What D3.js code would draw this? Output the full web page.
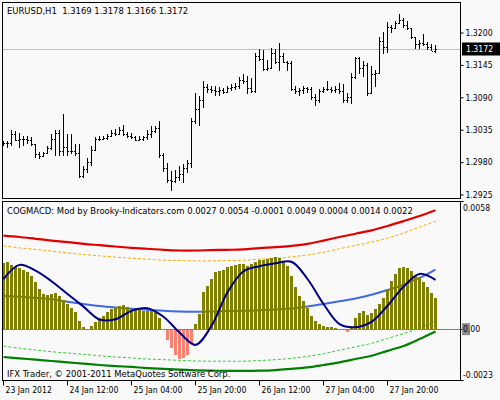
<!DOCTYPE html>
<html><head><meta charset="utf-8">
<script src="https://cdn.jsdelivr.net/npm/d3@7"></script>
<style>
body{margin:0;background:#f9f9f9}
svg{display:block}
text{font-family:"DejaVu Sans Condensed","DejaVu Sans",sans-serif;font-stretch:condensed;font-size:8.6px;fill:#000}
text.title{font-size:9.4px}
</style></head>
<body><svg id="c" width="500" height="400"></svg>
<script>
const symbol = "EURUSD,H1";
const indicatorName = "COGMACD: Mod by Brooky-Indicators.com";
const copyright = "IFX Trader, \u00a9 2001-2011 MetaQuotes Software Corp.";
const timeLabels = ["23 Jan 2012","24 Jan 12:00","25 Jan 04:00","25 Jan 20:00","26 Jan 12:00","27 Jan 04:00","27 Jan 20:00"];
const timeLabelBars = [0,16,32,48,64,80,96];
const priceTicks = [1.3200,1.3145,1.3090,1.3035,1.2980,1.2925];
const indicatorTicks = [0.0058,0.00,-0.0023];

const open = [1.3010,1.3012,1.3013,1.3028,1.3018,1.3020,1.3020,1.3018,1.3010,1.2993,
1.2990,1.2995,1.3004,1.3020,1.3030,1.2998,1.3005,1.2998,1.2998,1.2995,
1.2956,1.2968,1.2980,1.3000,1.3020,1.3019,1.3021,1.3024,1.3030,1.3028,
1.3035,1.3028,1.3024,1.3022,1.3018,1.3020,1.3022,1.3028,1.3033,1.3038,
1.2992,1.2970,1.2950,1.2948,1.2955,1.2960,1.2970,1.2978,1.3050,1.3070,
1.3085,1.3108,1.3104,1.3102,1.3100,1.3102,1.3099,1.3106,1.3108,1.3110,
1.3120,1.3118,1.3106,1.3100,1.3160,1.3155,1.3138,1.3140,1.3165,1.3150,
1.3160,1.3150,1.3148,1.3104,1.3100,1.3102,1.3105,1.3104,1.3090,1.3085,
1.3100,1.3104,1.3104,1.3102,1.3104,1.3100,1.3086,1.3090,1.3125,1.3156,
1.3140,1.3145,1.3098,1.3130,1.3132,1.3185,1.3175,1.3210,1.3207,1.3216,
1.3222,1.3212,1.3207,1.3192,1.3180,1.3182,1.3180,1.3175,1.3169];
const high = [1.3015,1.3015,1.3034,1.3032,1.3030,1.3025,1.3025,1.3023,1.3011,1.2997,
1.2997,1.3007,1.3027,1.3034,1.3034,1.3061,1.3027,1.3027,1.3011,1.3011,
1.2973,1.2987,1.3007,1.3023,1.3024,1.3025,1.3027,1.3034,1.3036,1.3040,
1.3043,1.3031,1.3030,1.3024,1.3024,1.3025,1.3034,1.3041,1.3041,1.3049,
1.2995,1.2979,1.2965,1.2966,1.2973,1.2976,1.2984,1.3055,1.3098,1.3092,
1.3117,1.3113,1.3109,1.3110,1.3108,1.3106,1.3110,1.3112,1.3115,1.3124,
1.3130,1.3126,1.3123,1.3165,1.3172,1.3171,1.3154,1.3174,1.3172,1.3182,
1.3165,1.3151,1.3151,1.3110,1.3106,1.3109,1.3108,1.3108,1.3095,1.3104,
1.3108,1.3117,1.3108,1.3110,1.3115,1.3112,1.3098,1.3131,1.3159,1.3159,
1.3151,1.3148,1.3143,1.3136,1.3193,1.3201,1.3218,1.3212,1.3219,1.3231,
1.3225,1.3219,1.3208,1.3193,1.3188,1.3197,1.3184,1.3180,1.3178];
const low = [1.3007,1.3004,1.3007,1.3015,1.3004,1.3007,1.3010,1.3007,1.2987,1.2985,
1.2988,1.2993,1.3001,1.2991,1.2991,1.2990,1.2990,1.2993,1.2990,1.2953,
1.2953,1.2962,1.2974,1.3000,1.3015,1.3018,1.3018,1.3024,1.3024,1.3027,
1.3024,1.3021,1.3020,1.3015,1.3015,1.3015,1.3018,1.3021,1.3030,1.2987,
1.2963,1.2945,1.2931,1.2945,1.2948,1.2945,1.2962,1.2970,1.3044,1.3042,
1.3072,1.3098,1.3098,1.3092,1.3092,1.3095,1.3098,1.3100,1.3103,1.3104,
1.3112,1.3096,1.3098,1.3098,1.3151,1.3134,1.3134,1.3140,1.3146,1.3134,
1.3148,1.3134,1.3100,1.3095,1.3092,1.3095,1.3098,1.3086,1.3076,1.3081,
1.3098,1.3100,1.3098,1.3098,1.3095,1.3081,1.3081,1.3079,1.3121,1.3129,
1.3125,1.3092,1.3098,1.3108,1.3129,1.3163,1.3165,1.3199,1.3206,1.3215,
1.3208,1.3205,1.3189,1.3172,1.3172,1.3177,1.3171,1.3168,1.3166];
const close = [1.3012,1.3013,1.3028,1.3018,1.3020,1.3020,1.3018,1.3010,1.2993,1.2990,
1.2995,1.3004,1.3020,1.3030,1.2998,1.3005,1.2998,1.2998,1.2995,1.2956,
1.2968,1.2980,1.3000,1.3020,1.3019,1.3021,1.3024,1.3030,1.3028,1.3035,
1.3028,1.3024,1.3022,1.3018,1.3020,1.3022,1.3028,1.3033,1.3038,1.2992,
1.2970,1.2950,1.2948,1.2955,1.2960,1.2970,1.2978,1.3050,1.3070,1.3085,
1.3108,1.3104,1.3102,1.3100,1.3102,1.3099,1.3106,1.3108,1.3110,1.3120,
1.3118,1.3106,1.3100,1.3160,1.3155,1.3138,1.3140,1.3165,1.3150,1.3160,
1.3150,1.3148,1.3104,1.3100,1.3102,1.3105,1.3104,1.3090,1.3085,1.3100,
1.3104,1.3104,1.3102,1.3104,1.3100,1.3086,1.3090,1.3125,1.3156,1.3140,
1.3145,1.3098,1.3130,1.3132,1.3185,1.3175,1.3210,1.3207,1.3216,1.3222,
1.3212,1.3207,1.3192,1.3180,1.3182,1.3180,1.3175,1.3169,1.3172];

const histogram = [0.00300,0.00303,0.00292,0.00280,0.00277,0.00268,0.00258,0.00242,0.00212,0.00182,
0.00159,0.00156,0.00159,0.00162,0.00152,0.00132,0.00114,0.00095,0.00076,0.00038,
0.00011,0.00002,0.00015,0.00033,0.00050,0.00061,0.00076,0.00091,0.00102,0.00106,
0.00109,0.00102,0.00091,0.00091,0.00091,0.00083,0.00080,0.00080,0.00076,0.00050,
-0.00001,-0.00045,-0.00083,-0.00114,-0.00129,-0.00126,-0.00111,-0.00061,0.00023,0.00068,
0.00167,0.00197,0.00227,0.00258,0.00265,0.00268,0.00283,0.00288,0.00291,0.00295,
0.00295,0.00288,0.00295,0.00303,0.00315,0.00315,0.00318,0.00321,0.00326,0.00323,
0.00303,0.00288,0.00242,0.00189,0.00152,0.00129,0.00098,0.00061,0.00035,0.00023,
0.00015,0.00011,0.00008,0.00005,0.00002,0.00001,-0.00008,0.00008,0.00050,0.00071,
0.00083,0.00065,0.00071,0.00091,0.00114,0.00141,0.00182,0.00217,0.00250,0.00277,
0.00283,0.00277,0.00262,0.00242,0.00235,0.00212,0.00189,0.00162,0.00141];

const lineBars = [0,4,8,12,16,20,24,28,32,36,40,44,48,52,56,60,64,68,72,76,80,84,88,92,96,100,104,108];
const blueLine = [0.00150,0.00147,0.00142,0.00135,0.00124,0.00114,0.00105,0.00098,0.00092,0.00088,0.00083,0.00080,0.00079,0.00080,0.00082,0.00083,0.00086,0.00089,0.00094,0.00103,0.00114,0.00126,0.00139,0.00156,0.00177,0.00201,0.00232,0.00270];
const redBand = [0.00423,0.00417,0.00409,0.00401,0.00394,0.00386,0.00380,0.00374,0.00368,0.00364,0.00359,0.00356,0.00356,0.00358,0.00359,0.00361,0.00367,0.00371,0.00377,0.00386,0.00401,0.00417,0.00432,0.00447,0.00467,0.00489,0.00512,0.00538];
const greenBand = [-0.00126,-0.00132,-0.00138,-0.00144,-0.00150,-0.00156,-0.00162,-0.00167,-0.00171,-0.00176,-0.00180,-0.00183,-0.00186,-0.00188,-0.00189,-0.00189,-0.00188,-0.00185,-0.00180,-0.00173,-0.00162,-0.00150,-0.00135,-0.00120,-0.00098,-0.00076,-0.00045,-0.00011];
const orangeDash = [0.00377,0.00368,0.00361,0.00353,0.00345,0.00338,0.00332,0.00326,0.00321,0.00317,0.00312,0.00311,0.00309,0.00309,0.00311,0.00312,0.00317,0.00321,0.00327,0.00336,0.00348,0.00364,0.00379,0.00394,0.00412,0.00435,0.00462,0.00488];
const greenDash = [-0.00077,-0.00086,-0.00094,-0.00102,-0.00108,-0.00114,-0.00120,-0.00126,-0.00130,-0.00135,-0.00138,-0.00141,-0.00144,-0.00145,-0.00145,-0.00145,-0.00142,-0.00138,-0.00132,-0.00123,-0.00111,-0.00095,-0.00080,-0.00064,-0.00042,-0.00020,0.00005,0.00036];
const navyLine = [0.00227,0.00291,0.00265,0.00217,0.00159,0.00102,0.00044,0.00045,0.00083,0.00095,0.00056,-0.00015,-0.00071,0.00015,0.00167,0.00262,0.00285,0.00298,0.00305,0.00227,0.00114,0.00023,0.00009,0.00033,0.00106,0.00192,0.00250,0.00223];

const svg = d3.select("#c");
const W = 500, H = 400;
const P1 = {l:2, r:461, t:2, b:199};
const P2 = {l:2, r:461, t:201, b:381};
const n = close.length;

const x = d3.scaleLinear().domain([0, n-1]).range([3.5, 435.5]);
const yP = d3.scaleLinear().domain([1.2925, 1.3200]).range([194.5, 32.5]);
const yI = d3.scaleLinear().domain([-0.0023, 0.0058]).range([380, 201]);

svg.append("rect").attr("width",W).attr("height",H).attr("fill","#f9f9f9");

const defs = svg.append("defs");
defs.append("clipPath").attr("id","c1").append("rect").attr("x",P1.l).attr("y",P1.t).attr("width",P1.r-P1.l).attr("height",P1.b-P1.t);
defs.append("clipPath").attr("id","c2").append("rect").attr("x",P2.l).attr("y",P2.t).attr("width",P2.r-P2.l).attr("height",P2.b-P2.t);

// ---- price panel
const g1 = svg.append("g").attr("clip-path","url(#c1)");
const last = n-1;
g1.append("line").attr("x1",P1.l).attr("x2",P1.r)
  .attr("y1",Math.round(yP(close[last]))+0.5).attr("y2",Math.round(yP(close[last]))+0.5)
  .attr("stroke","#c0c0c0");
const idx = d3.range(n);
const bars = g1.append("g").attr("stroke","#000").attr("stroke-width",1).attr("shape-rendering","crispEdges");
bars.selectAll("line.hl").data(idx).join("line").attr("class","hl")
  .attr("x1",i=>x(i)).attr("x2",i=>x(i)).attr("y1",i=>yP(high[i])).attr("y2",i=>yP(low[i]));
bars.selectAll("line.o").data(idx).join("line").attr("class","o")
  .attr("x1",i=>x(i)-1.5).attr("x2",i=>x(i)).attr("y1",i=>Math.round(yP(open[i]))+0.5).attr("y2",i=>Math.round(yP(open[i]))+0.5);
bars.selectAll("line.c").data(idx).join("line").attr("class","c")
  .attr("x1",i=>x(i)).attr("x2",i=>x(i)+1.5).attr("y1",i=>Math.round(yP(close[i]))+0.5).attr("y2",i=>Math.round(yP(close[i]))+0.5);

svg.append("text").attr("class","title").attr("x",7).attr("y",14).attr("xml:space","preserve").style("white-space","pre")
  .text(symbol+"  "+[open[last],high[last],low[last],close[last]].map(v=>v.toFixed(4)).join(" "));

svg.append("rect").attr("x",P1.l+0.5).attr("y",P1.t+0.5).attr("width",P1.r-P1.l-1).attr("height",P1.b-P1.t-1)
  .attr("fill","none").attr("stroke","#000");

// price axis
const axP = svg.append("g").attr("transform",`translate(${P1.r-0.5},0)`)
  .call(d3.axisRight(yP).tickValues(priceTicks).tickSize(3).tickPadding(2).tickFormat(d3.format(".4f")));
axP.select(".domain").remove();
axP.attr("font-family",null).attr("font-size",null);
axP.selectAll("text").attr("fill","#000");
axP.selectAll("line").attr("stroke","#000");
// current price marker
const cy = yP(close[last]);
svg.append("rect").attr("x",462).attr("y",cy-6.5).attr("width",38).attr("height",13).attr("fill","#000");
svg.append("text").attr("x",466).attr("y",cy).attr("dy","0.34em").style("fill","#fff").text(close[last].toFixed(4));

// ---- indicator panel
const g2 = svg.append("g").attr("clip-path","url(#c2)");
const lineGen = arr => d3.line().x((d,k)=>x(lineBars[k])).y(d=>yI(d)).curve(d3.curveCatmullRom)(arr);

g2.append("path").attr("d",lineGen(blueLine)).attr("fill","none").attr("stroke","#4169e1").attr("stroke-width",2);
g2.append("path").attr("d",lineGen(redBand)).attr("fill","none").attr("stroke","#e00000").attr("stroke-width",2.2);
g2.append("path").attr("d",lineGen(greenBand)).attr("fill","none").attr("stroke","#008000").attr("stroke-width",2.2);
g2.append("path").attr("d",lineGen(orangeDash)).attr("fill","none").attr("stroke","#ffa500").attr("stroke-width",1).attr("stroke-dasharray","3,2");
g2.append("path").attr("d",lineGen(greenDash)).attr("fill","none").attr("stroke","#32cd32").attr("stroke-width",1).attr("stroke-dasharray","3,2");

g2.append("line").attr("x1",P2.l).attr("x2",P2.r).attr("y1",Math.round(yI(0))+0.5).attr("y2",Math.round(yI(0))+0.5)
  .attr("stroke","#808080");

const y0 = Math.round(yI(0));
g2.append("g").attr("shape-rendering","crispEdges").selectAll("rect").data(idx).join("rect")
  .attr("x",i=>x(i)-1.5).attr("width",3)
  .attr("y",i=>histogram[i]>=0?yI(histogram[i]):y0+1)
  .attr("height",i=>Math.max(0,Math.abs(yI(histogram[i])-yI(0))))
  .attr("fill",i=>histogram[i]>=0?"#808000":"#fa8072");

g2.append("path").attr("d",lineGen(navyLine)).attr("fill","none").attr("stroke","#000080").attr("stroke-width",2);

const lastVals = [blueLine, redBand, greenBand, orangeDash, greenDash, histogram, navyLine].map(a=>a[a.length-1].toFixed(4));
svg.append("text").attr("class","title").attr("x",7).attr("y",214).text(indicatorName+" "+lastVals.join(" "));
svg.append("text").attr("class","title").attr("x",7).attr("y",377).text(copyright);

svg.append("rect").attr("x",P2.l+0.5).attr("y",P2.t+0.5).attr("width",P2.r-P2.l-1).attr("height",P2.b-P2.t-1)
  .attr("fill","none").attr("stroke","#000");

// indicator axis
const axI = svg.append("g");
axI.selectAll("line").data(indicatorTicks).join("line")
  .attr("x1",P2.r-0.5).attr("x2",P2.r+2.5).attr("y1",d=>Math.round(yI(d))+0.5).attr("y2",d=>Math.round(yI(d))+0.5).attr("stroke","#000");
axI.append("rect").attr("x",462).attr("y",yI(0)-6).attr("width",8).attr("height",12).attr("fill","#8a8a8a");
axI.selectAll("text").data(indicatorTicks).join("text")
  .attr("x",463)
  .attr("y",d=> d===indicatorTicks[0] ? yI(d)+7 : d===indicatorTicks[2] ? yI(d)-5 : yI(d))
  .attr("dy","0.34em")
  .text(d=> d===0 ? "0.00" : d.toFixed(4));

// time axis
const axT = svg.append("g").attr("transform",`translate(0,${P2.b-0.5})`)
  .call(d3.axisBottom(x).tickValues(timeLabelBars).tickSize(5).tickFormat((d,k)=>timeLabels[k]));
axT.select(".domain").remove();
axT.attr("font-family",null).attr("font-size",null);
axT.selectAll("line").attr("stroke","#000").attr("transform","translate(-0.5,0)");
axT.selectAll("text").attr("text-anchor","start").attr("x",1.5).attr("y",6).attr("dy","0.71em").attr("fill","#000");
</script></body></html>
